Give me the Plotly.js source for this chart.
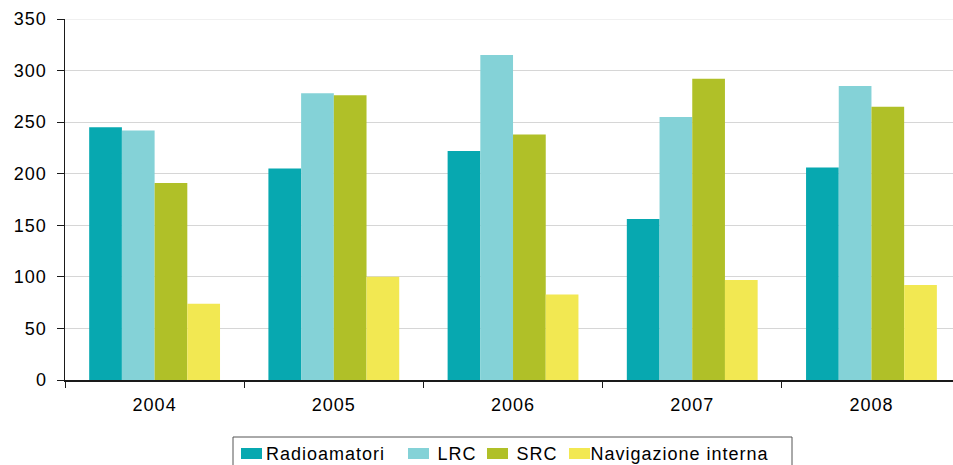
<!DOCTYPE html>
<html>
<head>
<meta charset="utf-8">
<script src="https://cdn.plot.ly/plotly-3.0.1.min.js"></script>
<style>
  html, body { margin: 0; padding: 0; background: #fff; overflow: hidden; }
  #chart { width: 953px; height: 465px; }
  /* slightly wider set text, as in the printed report */
  #chart .xtick text, #chart .ytick text, #chart .annotation-text { letter-spacing: 1px; }
</style>
</head>
<body>
<div id="chart"></div>
<script>
// Annual counts per service category
const years = ["2004", "2005", "2006", "2007", "2008"];
const radioamatori = [245, 205, 222, 156, 206];
const lrc = [242, 278, 315, 255, 285];
const src = [191, 276, 238, 292, 265];
const navigazioneInterna = [74, 100, 83, 97, 92];
const yTicks = [0, 50, 100, 150, 200, 250, 300, 350];

const seriesNames = ["Radioamatori", "LRC", "SRC", "Navigazione interna"];
const seriesValues = [radioamatori, lrc, src, navigazioneInterna];
const seriesColors = ["#07a8b0", "#84d2d7", "#b0c028", "#f2e852"];

const W = 953, H = 465;
const M = { l: 65, r: 0, t: 19, b: 85 };
const plotW = W - M.l - M.r, plotH = H - M.t - M.b;
// pixel -> paper coordinates
const px = v => (v - M.l) / plotW;
const py = v => (H - M.b - v) / plotH;

const traces = seriesValues.map((vals, i) => ({
  type: "bar",
  name: seriesNames[i],
  x: years,
  y: vals,
  marker: { color: seriesColors[i], line: { width: 0 } },
  showlegend: false
}));

// Boxed legend row under the axis
const legendItems = [
  { sw: 241, tx: 271 },
  { sw: 408, tx: 438 },
  { sw: 487, tx: 517 },
  { sw: 569, tx: 599 }
];
const shapes = [
  { type: "rect", xref: "paper", yref: "paper",
    x0: px(233), x1: px(792), y0: py(437), y1: py(475),
    line: { color: "#555", width: 1 }, fillcolor: "#fff", layer: "above" },
  // faint top gridline at the axis maximum
  { type: "line", xref: "paper", yref: "y", x0: 0, x1: 1, y0: 350, y1: 350,
    line: { color: "#f0f0f0", width: 2 }, layer: "above" }
];
const annotations = [];
legendItems.forEach((it, i) => {
  shapes.push({ type: "rect", xref: "paper", yref: "paper",
    x0: px(it.sw), x1: px(it.sw + 21), y0: py(448), y1: py(459),
    line: { width: 0 }, fillcolor: seriesColors[i], layer: "above" });
  annotations.push({ xref: "paper", yref: "paper", x: px(it.tx), y: py(453.5),
    xanchor: "left", yanchor: "middle", showarrow: false, text: seriesNames[i],
    font: { size: 18, color: "#000" }, borderpad: 0 });
});

const layout = {
  width: W,
  height: H,
  margin: { l: M.l, r: M.r, t: M.t, b: M.b, autoexpand: false },
  paper_bgcolor: "#ffffff",
  plot_bgcolor: "#ffffff",
  font: { family: "Liberation Sans, Arial, sans-serif", size: 18, color: "#000" },
  barmode: "group",
  bargap: 0.27,
  bargroupgap: 0,
  showlegend: false,
  xaxis: {
    type: "category",
    range: [-0.5, 4.455],
    showline: true,
    linecolor: "#1a1a1a",
    linewidth: 1.5,
    ticks: "outside",
    tickson: "boundaries",
    ticklen: 6,
    tickcolor: "#1a1a1a",
    tickfont: { size: 18 },
    ticklabelstandoff: 8,
    showgrid: false,
    zeroline: false
  },
  yaxis: {
    range: [0, 350],
    tickvals: yTicks,
    showline: true,
    linecolor: "#1a1a1a",
    linewidth: 1.5,
    ticks: "outside",
    ticklen: 7,
    tickcolor: "#1a1a1a",
    tickfont: { size: 18 },
    ticklabelstandoff: 6,
    showgrid: true,
    gridcolor: "#d6d6d6",
    gridwidth: 1.2,
    zeroline: false
  },
  shapes: shapes,
  annotations: annotations
};

Plotly.newPlot("chart", traces, layout, { displayModeBar: false, staticPlot: true });
</script>
</body>
</html>
